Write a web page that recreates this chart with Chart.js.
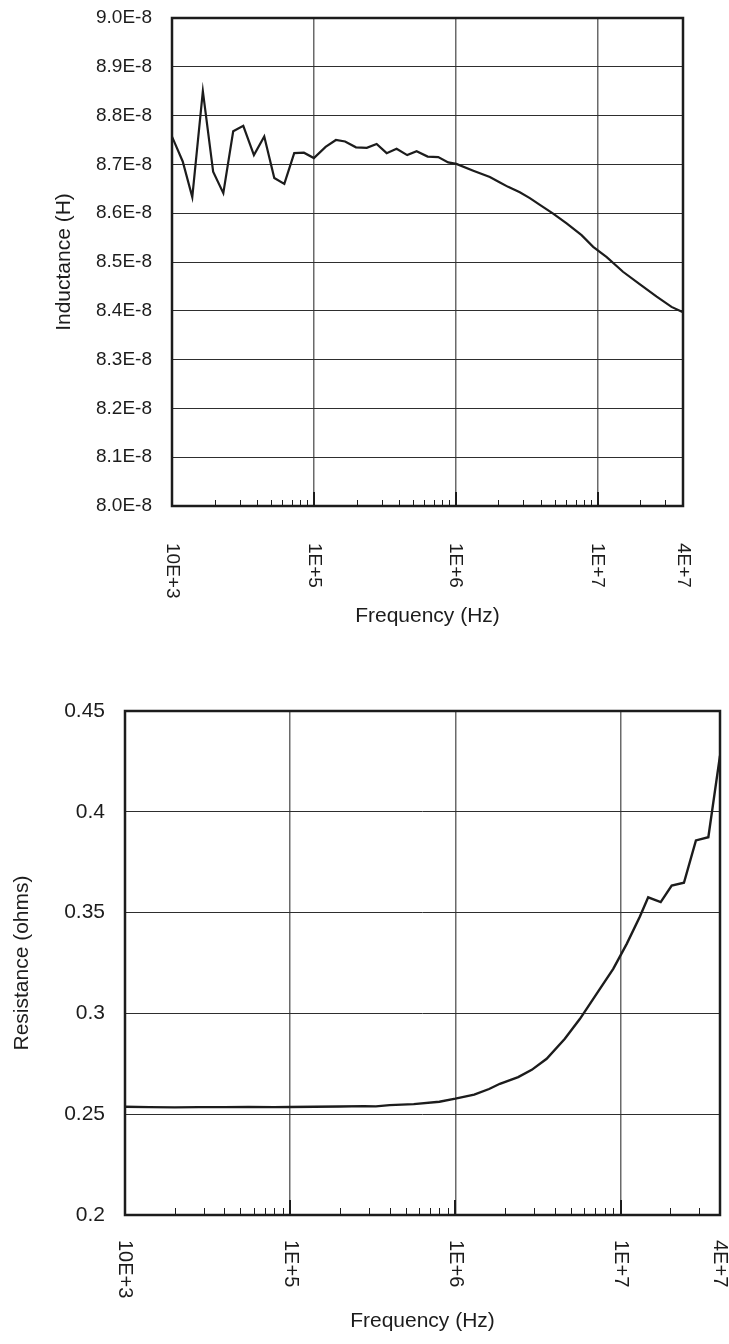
<!DOCTYPE html>
<html>
<head>
<meta charset="utf-8">
<script src="https://cdn.jsdelivr.net/npm/chart.js@4.4.1/dist/chart.umd.min.js"></script>
<style>
  body { margin: 0; background: #fff; }
  .wrap { position: absolute; left: 0; width: 729px; }
  #top { top: 0; height: 650px; }
  #bottom { top: 650px; height: 694px; }
</style>
</head>
<body>
<div class="wrap" id="top"><canvas id="indChart"></canvas></div>
<div class="wrap" id="bottom"><canvas id="resChart"></canvas></div>
<script>
// inductance sweep (Hz, H)
const indFreq = [1.0e4, 1.19e4, 1.39e4, 1.65e4, 1.95e4, 2.30e4, 2.70e4, 3.18e4, 3.78e4, 4.47e4,
  5.26e4, 6.19e4, 7.27e4, 8.51e4, 1.0e5, 1.21e5, 1.43e5, 1.66e5, 1.98e5, 2.36e5,
  2.77e5, 3.26e5, 3.83e5, 4.55e5, 5.30e5, 6.34e5, 7.53e5, 8.85e5, 1.01e6, 1.33e6,
  1.74e6, 2.05e6, 2.34e6, 2.83e6, 3.33e6, 3.92e6, 4.86e6, 6.05e6, 7.71e6, 9.31e6,
  1.16e7, 1.51e7, 1.99e7, 2.61e7, 3.32e7, 4.0e7];
const inductance = [8.757e-8, 8.706e-8, 8.633e-8, 8.850e-8, 8.685e-8, 8.641e-8, 8.768e-8, 8.779e-8, 8.719e-8, 8.757e-8,
  8.672e-8, 8.660e-8, 8.723e-8, 8.724e-8, 8.713e-8, 8.736e-8, 8.750e-8, 8.747e-8, 8.735e-8, 8.734e-8,
  8.742e-8, 8.723e-8, 8.732e-8, 8.719e-8, 8.727e-8, 8.716e-8, 8.715e-8, 8.704e-8, 8.701e-8, 8.687e-8,
  8.674e-8, 8.663e-8, 8.654e-8, 8.643e-8, 8.631e-8, 8.617e-8, 8.599e-8, 8.579e-8, 8.555e-8, 8.531e-8,
  8.510e-8, 8.480e-8, 8.454e-8, 8.429e-8, 8.408e-8, 8.397e-8];

// resistance sweep (Hz, ohms)
const resFreq = [1.0e4, 1.4e4, 2.0e4, 2.8e4, 4.0e4, 5.6e4, 8.0e4, 1.0e5, 1.4e5, 2.0e5,
  2.8e5, 3.3e5, 4.0e5, 5.6e5, 8.0e5, 1.0e6, 1.3e6, 1.6e6, 1.86e6, 2.40e6,
  2.90e6, 3.57e6, 4.60e6, 5.68e6, 7.16e6, 9.03e6, 1.09e7, 1.31e7, 1.47e7, 1.75e7,
  2.04e7, 2.42e7, 2.86e7, 3.40e7, 4.0e7];
const resistance = [0.2537, 0.2535, 0.2534, 0.2535, 0.2535, 0.2536, 0.2535, 0.2536, 0.2537, 0.2538,
  0.2540, 0.2539, 0.2545, 0.2550, 0.2562, 0.2577, 0.2597, 0.2625, 0.2651, 0.2684,
  0.2720, 0.2775, 0.2874, 0.2973, 0.3097, 0.3221, 0.3345, 0.3481, 0.3576, 0.3552,
  0.3634, 0.3648, 0.3858, 0.3874, 0.4279];

const freqTicks = [1e4, 1e5, 1e6, 1e7, 4e7];
const freqLabels = ['10E+3', '1E+5', '1E+6', '1E+7', '4E+7'];
const indTicks = [8.0e-8, 8.1e-8, 8.2e-8, 8.3e-8, 8.4e-8, 8.5e-8, 8.6e-8, 8.7e-8, 8.8e-8, 8.9e-8, 9.0e-8];
const resTicks = [0.2, 0.25, 0.3, 0.35, 0.4, 0.45];

// minor tick marks 2..9 per decade
const minorTicks = [];
for (let d = 1e4; d < 4e7; d *= 10) {
  for (let m = 2; m <= 9; m++) if (d * m < 4e7) minorTicks.push(d * m);
}
const majorTicks = [1e5, 1e6, 1e7];

const FONT = '"Liberation Sans", Arial, sans-serif';
const INK = '#1c1c1c';

// frame, inner ticks and downward-reading x labels
const frame = {
  id: 'frame',
  afterDraw(chart, args, o) {
    const { ctx, chartArea: a, scales: { x } } = chart;
    ctx.save();
    ctx.strokeStyle = INK;
    ctx.lineWidth = 1;
    minorTicks.forEach(v => {
      const px = Math.round(x.getPixelForValue(v)) + 0.5;
      ctx.beginPath();
      ctx.moveTo(px, a.bottom);
      ctx.lineTo(px, a.bottom - o.minor);
      ctx.stroke();
    });
    ctx.lineWidth = 2;
    majorTicks.forEach(v => {
      const px = Math.round(x.getPixelForValue(v));
      ctx.beginPath();
      ctx.moveTo(px, a.bottom);
      ctx.lineTo(px, a.bottom - o.major);
      ctx.stroke();
    });
    ctx.lineWidth = 2.5;
    ctx.strokeRect(a.left, a.top, a.right - a.left, a.bottom - a.top);

    ctx.fillStyle = INK;
    ctx.font = o.size + 'px ' + FONT;
    ctx.textAlign = 'left';
    ctx.textBaseline = 'middle';
    freqTicks.forEach((v, i) => {
      ctx.save();
      ctx.translate(x.getPixelForValue(v), a.bottom + o.gap);
      ctx.rotate(Math.PI / 2);
      ctx.fillText(freqLabels[i], 0, 0);
      ctx.restore();
    });
    ctx.restore();
  }
};

function makeChart(id, freq, vals, g) {
  const ctx = document.getElementById(id).getContext('2d');
  return new Chart(ctx, {
    type: 'line',
    data: {
      datasets: [{
        data: freq.map((f, i) => ({ x: f, y: vals[i] })),
        borderColor: INK,
        borderWidth: g.lineWidth,
        pointRadius: 0,
        tension: 0,
        fill: false
      }]
    },
    options: {
      responsive: true,
      maintainAspectRatio: false,
      animation: false,
      events: [],
      layout: { padding: { top: g.top, right: g.right, left: 0, bottom: 0 } },
      plugins: {
        legend: { display: false },
        tooltip: { enabled: false },
        frame: { minor: g.minor, major: g.major, gap: g.gap, size: g.xSize }
      },
      scales: {
        x: {
          type: 'logarithmic',
          min: 1e4,
          max: 4e7,
          afterBuildTicks: s => { s.ticks = freqTicks.map(v => ({ value: v })); },
          afterFit: s => {
            s.height = g.xHeight;
            s.paddingLeft = 0; s.paddingRight = 0;
          },
          ticks: { display: false },
          border: { display: false },
          grid: { color: '#6a6a6a', lineWidth: 1.5, drawTicks: false },
          title: {
            display: true,
            text: 'Frequency (Hz)',
            color: INK,
            font: { family: FONT, size: g.titleSize },
            padding: { top: 0, bottom: g.xTitlePad }
          }
        },
        y: {
          min: g.yTicks[0],
          max: g.yTicks[g.yTicks.length - 1],
          afterBuildTicks: s => { s.ticks = g.yTicks.map(v => ({ value: v })); },
          afterFit: s => {
            s.width = g.yWidth;
            s.paddingTop = 0; s.paddingBottom = 0;
          },
          ticks: {
            color: INK,
            padding: 20,
            font: { family: FONT, size: g.ySize },
            callback: g.fmt
          },
          border: { display: false },
          grid: { color: '#2e2e2e', lineWidth: 1, drawTicks: false },
          title: {
            display: true,
            text: g.yTitle,
            color: INK,
            font: { family: FONT, size: g.titleSize },
            padding: { top: g.yTitlePad, bottom: 0 }
          }
        }
      }
    },
    plugins: [frame]
  });
}

makeChart('indChart', indFreq, inductance, {
  top: 18, right: 46, yWidth: 172, xHeight: 144,
  yTicks: indTicks, yTitle: 'Inductance (H)',
  fmt: v => (v * 1e8).toFixed(1) + 'E-8',
  ySize: 19, xSize: 19, titleSize: 21, yTitlePad: 52, xTitlePad: 21,
  minor: 6, major: 14, gap: 37, lineWidth: 2.2
});

makeChart('resChart', resFreq, resistance, {
  top: 61, right: 9, yWidth: 125, xHeight: 129,
  yTicks: resTicks, yTitle: 'Resistance (ohms)',
  fmt: v => String(Number(v.toFixed(2))),
  ySize: 21, xSize: 20, titleSize: 21, yTitlePad: 10, xTitlePad: 10,
  minor: 7, major: 15, gap: 25, lineWidth: 2.4
});
</script>
</body>
</html>
